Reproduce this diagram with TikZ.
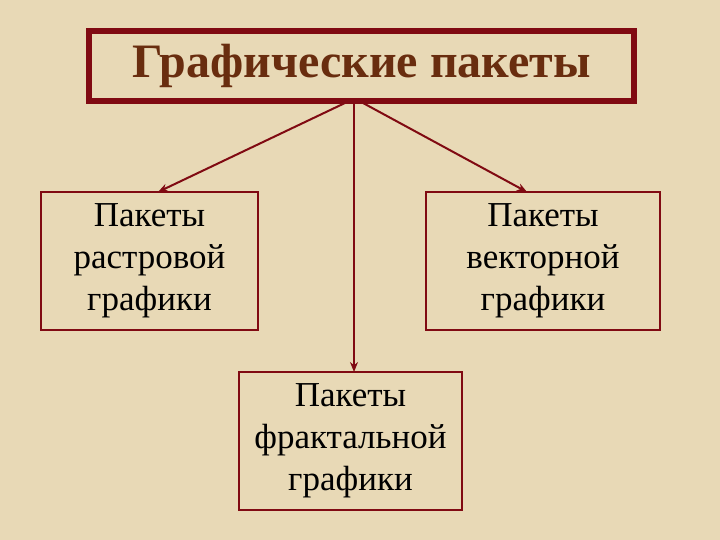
\documentclass[tikz,border=0pt]{standalone}
\usepackage{fontspec}
\setmainfont{Liberation Serif}
\begin{document}
\begin{tikzpicture}[x=1pt,y=-1pt,
  sub/.style={draw=boxred,line width=1.8pt,fill=none,align=center,font=\fontsize{35}{42}\selectfont,text=black,inner sep=0pt},
  conn/.style={draw=boxred,line width=2pt,-{Stealth[length=10pt,width=8pt]}}]
\definecolor{paper}{RGB}{232,217,182}
\definecolor{boxred}{RGB}{128,10,18}
\definecolor{titlebrown}{RGB}{105,45,15}
\usetikzlibrary{arrows.meta}
\fill[paper] (0,0) rectangle (720,540);
\useasboundingbox (0,0) rectangle (720,540);
\node[draw=boxred,line width=6pt,minimum width=545pt,minimum height=70pt,inner sep=0pt,
  font=\bfseries\fontsize{48}{52}\selectfont,text=titlebrown] (t) at (361.5,66) {Графические пакеты};
\node[sub,minimum width=217pt,minimum height=138pt] (l) at (149.5,261) {Пакеты\\растровой\\графики};
\node[sub,minimum width=234pt,minimum height=138pt] (r) at (543,261) {Пакеты\\векторной\\графики};
\node[sub,minimum width=223pt,minimum height=138pt] (b) at (350.5,441) {Пакеты\\фрактальной\\графики};
\coordinate (o1) at (345,103);
\coordinate (o2) at (354,103);
\coordinate (o3) at (363,103);
\coordinate (e1) at (158,192);
\coordinate (e3) at (527,192);
\coordinate (e2) at (354,372);
\draw[conn] (o1) -- (e1);
\draw[conn] (o3) -- (e3);
\draw[conn] (o2) -- (e2);
\end{tikzpicture}
\end{document}
